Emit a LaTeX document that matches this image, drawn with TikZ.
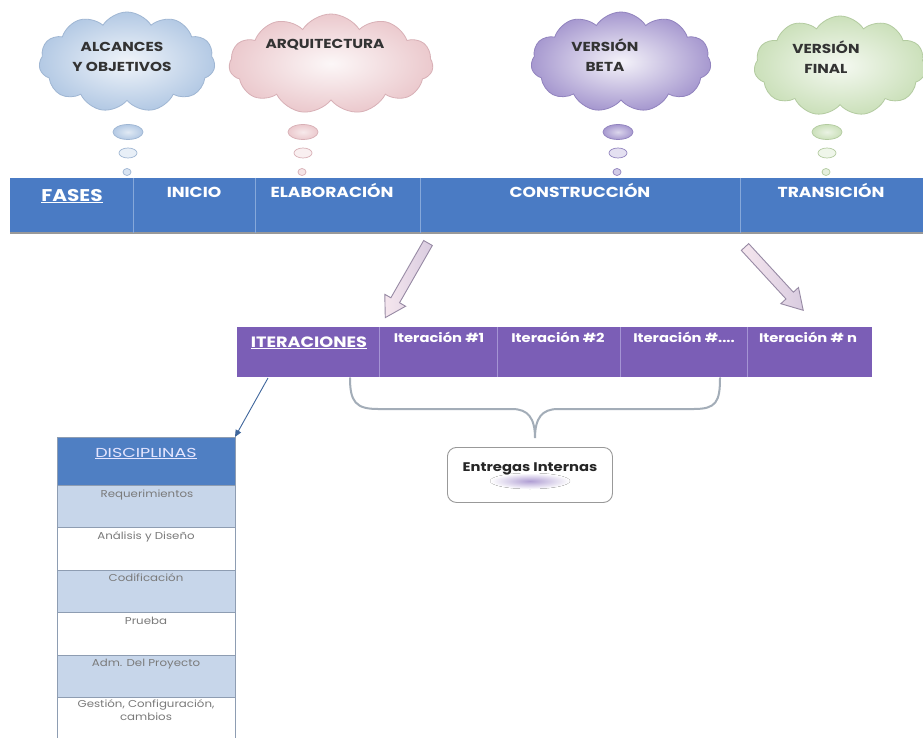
\documentclass[tikz,border=0pt]{standalone}
\usepackage{fontspec}
\setmainfont{Poppins}
\newfontfamily\wideA[FakeStretch=1.18]{Poppins}
\newfontfamily\wideB[FakeStretch=1.35]{Poppins}
\usetikzlibrary{shapes.symbols,shapes.geometric,arrows.meta,calc}

\definecolor{bandblue}{HTML}{4A7BC4}
\definecolor{banddiv}{HTML}{86A8DA}
\definecolor{itpurple}{HTML}{7B5EB6}
\definecolor{itdiv}{HTML}{A594D4}
\definecolor{hdrblue}{HTML}{4F7FC3}
\definecolor{rowblue}{HTML}{C7D6EA}
\definecolor{rowline}{HTML}{8E9DB2}
\definecolor{rowtext}{HTML}{7A7A7A}
\definecolor{cblue}{HTML}{B3C9E4}
\definecolor{cblueD}{HTML}{9FB6D3}
\definecolor{cpink}{HTML}{EBC9CD}
\definecolor{cpinkD}{HTML}{D8B0B6}
\definecolor{cviolet}{HTML}{A698CF}
\definecolor{cvioletD}{HTML}{9183BE}
\definecolor{cgreen}{HTML}{CBE0BA}
\definecolor{cgreenD}{HTML}{B3CBA0}
\definecolor{arrowline}{HTML}{978AA4}
\definecolor{arrowfillA}{HTML}{F5E6EE}
\definecolor{arrowfillB}{HTML}{D9CCE0}
\definecolor{bracegray}{HTML}{A3ADB8}

\tikzset{
  cell/.style={fill=bandblue, draw=none, minimum height=55, inner sep=0, outer sep=0, anchor=north west},
  bandtxt/.style={text=white, font=\wideA\bfseries\fontsize{14.5}{16}\selectfont, anchor=base, inner sep=0},
  itcell/.style={fill=itpurple, draw=none, minimum height=50, inner sep=0, outer sep=0, anchor=north west},
  ittxt/.style={text=white, font=\wideA\bfseries\fontsize{12.5}{14}\selectfont, anchor=base, inner sep=0},
  cloudbox/.style={cloud, cloud puffs=11, cloud puff arc=115, aspect=1.75, minimum width=#1, minimum height=100, line width=0.8pt, inner sep=0},
  cloudtxt/.style={text=black!80, font=\wideA\bfseries\fontsize{13}{20}\selectfont, align=center, inner sep=0},
  bubble/.style={line width=0.7pt},
  divline/.style={draw=#1, line width=0.8pt},
  fatarrow/.style={draw=arrowline, line width=0.9pt, left color=arrowfillA, right color=arrowfillB, line join=miter},
  brace/.style={draw=bracegray, line width=2pt, line cap=round},
  trow/.style={draw=rowline, line width=0.7pt, minimum width=178, minimum height=42.5, inner sep=0, outer sep=0, anchor=north west},
  rowtxt/.style={text=rowtext, font=\wideA\fontsize{10}{13}\selectfont, anchor=base, inner sep=0, align=center},
}

% block arrow drawn along a given angle (#2) from a start coordinate (#1) with length #3
\newcommand\blockarrow[3]{%
  \begin{scope}[shift={(#1)}, rotate=#2]
    \draw[fatarrow] (0,-5) -- ({#3-20},-5) -- ({#3-20},-12) -- (#3,0)
      -- ({#3-20},12) -- ({#3-20},5) -- (0,5) -- cycle;
  \end{scope}}

\begin{document}
\begin{tikzpicture}[x=1pt, y=-1pt]
\useasboundingbox (0,0) rectangle (923,738);
\fill[white] (0,0) rectangle (923,738);

% ---------- thought clouds ----------
\node[cloudbox=176, inner color=white!80!cblue, outer color=cblue, draw=cblueD] (cl1) at (127,62) {};
\node[cloudbox=204, inner color=white!85!cpink, outer color=cpink, draw=cpinkD] (cl2) at (331,64) {};
\node[cloudbox=180, inner color=white!88!cviolet, outer color=cviolet, draw=cvioletD] (cl3) at (621,62) {};
\node[cloudbox=172, inner color=white!80!cgreen, outer color=cgreen, draw=cgreenD] (cl4) at (840,66) {};

\node[cloudtxt] (t1) at (122,57) {ALCANCES\\Y OBJETIVOS};
\node[cloudtxt] (t2) at (325,45) {ARQUITECTURA};
\node[cloudtxt] (t3) at (605,55) {VERSIÓN\\BETA};
\node[cloudtxt] (t4) at (826,57) {VERSIÓN\\FINAL};

% thought bubbles under each cloud
\foreach \bx/\fc/\dc in {128/cblue/cblueD, 303/cpink/cpinkD, 618/cviolet/cvioletD, 827/cgreen/cgreenD}{
  \draw[bubble, draw=\dc, inner color=white!60!\fc, outer color=\fc] (\bx,132) ellipse (15 and 7.5);
  \draw[bubble, draw=\dc, fill=white!70!\fc] (\bx,153) ellipse (9 and 5);
  \draw[bubble, draw=\dc, fill=white!50!\fc] (\bx-1,172) ellipse (4 and 3.5);
}

% ---------- phases band ----------
\node[cell, minimum width=123] (fases) at (10,178) {};
\node[cell, minimum width=122] (inicio) at (133,178) {};
\node[cell, minimum width=165] (elab) at (255,178) {};
\node[cell, minimum width=320] (constr) at (420,178) {};
\node[cell, minimum width=183] (trans) at (740,178) {};
\draw[black!40, line width=1.2pt] (fases.south west) -- (trans.south east);
\foreach \c in {inicio, elab, constr, trans}
  \draw[divline=banddiv] (\c.north west) -- (\c.south west);

\node[bandtxt, font=\wideA\bfseries\fontsize{17}{19}\selectfont] (tf) at (72,201) {\underline{FASES}};
\node[bandtxt] (ti) at (194,197) {INICIO};
\node[bandtxt] (te) at (332,197) {ELABORACIÓN};
\node[bandtxt] (tc) at (580,197) {CONSTRUCCIÓN};
\node[bandtxt] (tt) at (831,197) {TRANSICIÓN};

% ---------- iterations bar ----------
\node[itcell, minimum width=142] (iter) at (237,327) {};
\node[itcell, minimum width=118] (it1) at (379,327) {};
\node[itcell, minimum width=123] (it2) at (497,327) {};
\node[itcell, minimum width=127] (it3) at (620,327) {};
\node[itcell, minimum width=125] (itn) at (747,327) {};
\foreach \c in {it1, it2, it3, itn}
  \draw[divline=itdiv] (\c.north west) -- (\c.south west);

\node[ittxt, font=\wideA\bfseries\fontsize{15}{17}\selectfont] (titer) at (309,347) {\underline{ITERACIONES}};
\node[ittxt] (tit1) at (439,342) {Iteración \#1};
\node[ittxt] (tit2) at (558,342) {Iteración \#2};
\node[ittxt] (tit3) at (684,342) {Iteración \#....};
\node[ittxt] (titn) at (808,342) {Iteración \# n};

% ---------- block arrows from phases to iterations ----------
\coordinate (a1s) at (428,243);
\coordinate (a2s) at (745,247);
\blockarrow{a1s}{-119.8}{86}
\blockarrow{a2s}{-47.4}{86}

% ---------- internal deliveries ----------
\node[draw=black!40, line width=0.9pt, rounded corners=9, fill=white,
      minimum width=165, minimum height=55, inner sep=0, anchor=north west] (ent) at (447,447) {};
\fill[inner color=itpurple!60, outer color=white] (530,481) ellipse (40 and 8);
\node[text=black!85, font=\wideA\bfseries\fontsize{12.5}{14}\selectfont, inner sep=0] (tent) at (530,469) {Entregas Internas};

\coordinate (brl) at (350,378);
\coordinate (brr) at (720,378);
\coordinate (brm) at (535,438);
\draw[brace] (brl) .. controls (350,402) and (356,409) .. (378,409) -- (512,409)
  .. controls (528,409) and (535,418) .. (brm)
  .. controls (535,418) and (542,409) .. (558,409) -- (694,409)
  .. controls (716,409) and (720,402) .. (brr);

% ---------- disciplines table ----------
\node[trow, fill=hdrblue, minimum height=48] (hdr) at (57,437) {};
\node[trow, fill=rowblue] (r1) at (57,485) {};
\node[trow, fill=white] (r2) at (57,527.5) {};
\node[trow, fill=rowblue] (r3) at (57,570) {};
\node[trow, fill=white] (r4) at (57,612.5) {};
\node[trow, fill=rowblue] (r5) at (57,655) {};
\node[trow, fill=white, minimum height=45] (r6) at (57,697.5) {};

\node[rowtxt, text=blue!10!white, font=\wideB\fontsize{13}{15}\selectfont] (th) at (146,457) {\underline{DISCIPLINAS}};
\node[rowtxt] (tr1) at (147,497) {Requerimientos};
\node[rowtxt] (tr2) at (146,539) {Análisis y Diseño};
\node[rowtxt] (tr3) at (146,581) {Codificación};
\node[rowtxt] (tr4) at (146,624) {Prueba};
\node[rowtxt] (tr5) at (146,666) {Adm. Del Proyecto};
\node[rowtxt, anchor=north] (tr6) at (146,699) {Gestión, Configuración,\\cambios};

% link from the iterations header to the disciplines table
\coordinate (itlink) at (268,378);
\draw[draw=hdrblue!80!black, line width=0.9pt, -{Triangle[length=7pt,width=6pt]}] (itlink) -- (hdr.north east);

\end{tikzpicture}
\end{document}
